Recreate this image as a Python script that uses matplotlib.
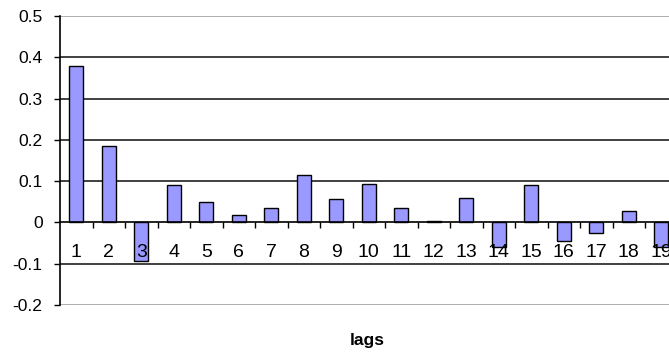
import numpy as np
import matplotlib
matplotlib.use("Agg")
import matplotlib.pyplot as plt
from matplotlib.transforms import offset_copy
from matplotlib.ticker import FixedLocator, FuncFormatter

lags = [str(i) for i in range(1, 20)]
acf = [0.380, 0.185, -0.094, 0.091, 0.049, 0.019, 0.034, 0.115, 0.056, 0.094,
       0.034, 0.003, 0.059, -0.059, 0.091, -0.045, -0.025, 0.028, -0.059]
y_ticks = [-0.2, -0.1, 0.0, 0.1, 0.2, 0.3, 0.4, 0.5]

W, H = 669, 356
fig = plt.figure(figsize=(W / 100, H / 100), dpi=100)
plt.rcParams['font.family'] = ['Liberation Sans', 'DejaVu Sans']

left_px, top_px, bottom_px = 60, 16, 305
cat_px = 32.5
ax = fig.add_axes([left_px / W, (H - bottom_px) / H,
                   cat_px * len(lags) / W, (bottom_px - top_px) / H])

x = np.arange(len(lags))
ax.bar(x, acf, width=0.43, color='#9999FF', edgecolor='black', linewidth=1.0, zorder=3)

ax.set_xlim(-0.5, len(lags) - 0.5)
ax.set_ylim(-0.2, 0.5)

# horizontal gridlines
for v in y_ticks:
    if v in (-0.2, 0.5):
        ax.axhline(v, color='#a0a0a0', lw=1.2, zorder=1)
    elif v != 0:
        ax.axhline(v, color='#202020', lw=1.2, zorder=1)

# spines: category axis sits at zero
ax.spines['top'].set_visible(False)
ax.spines['right'].set_visible(False)
ax.spines['bottom'].set_position(('data', 0))
ax.spines['bottom'].set_color('black')
ax.spines['bottom'].set_linewidth(1.2)
ax.spines['bottom'].set_zorder(4)
ax.spines['left'].set_color('black')
ax.spines['left'].set_linewidth(1.2)

ax.xaxis.set_major_locator(FixedLocator(np.arange(0.5, len(lags) - 0.5, 1.0)))
ax.xaxis.set_major_formatter(FuncFormatter(lambda v, p: ''))
ax.tick_params(axis='x', direction='out', length=4.3, width=1.0, color='black')

ax.yaxis.set_major_locator(FixedLocator(y_ticks))
ax.yaxis.set_major_formatter(FuncFormatter(lambda v, p: '0' if abs(v) < 1e-9 else f'{v:.1f}'))
ax.tick_params(axis='y', direction='out', length=4.3, width=1.0, color='black',
               pad=8.2, labelsize=12.6, labelcolor='black')

# category labels placed just under the zero line, drawn over the bars
lab_tr = offset_copy(ax.transData, fig=fig, x=0, y=-30.5, units='dots')
for xi, lab in zip(x, lags):
    ax.text(xi, 0, lab, transform=lab_tr, ha='center', va='center',
            fontsize=14, color='black', zorder=6, clip_on=False)

fig.text(367 / W, 1 - 340 / H, 'lags', ha='center', va='center',
         fontsize=12.5, fontweight='bold', color='black')

fig.savefig('out.png', dpi=100)
